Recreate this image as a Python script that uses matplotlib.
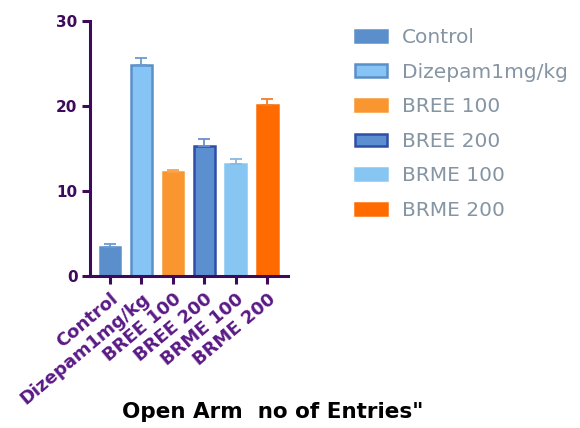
import matplotlib
matplotlib.use("Agg")
import matplotlib.pyplot as plt
from matplotlib.patches import Patch

# Group names and measurements
groups = ["Control", "Dizepam1mg/kg", "BREE 100", "BREE 200", "BRME 100", "BRME 200"]
means = [3.4, 24.8, 12.2, 15.3, 13.2, 20.1]
sems = [0.35, 0.8, 0.3, 0.8, 0.5, 0.7]
yticks = [0, 10, 20, 30]

fills = ["#5b8fcb", "#86c4f5", "#f9962f", "#5b8fd0", "#87c6f3", "#ff6b00"]
edges = ["#5b8fcb", "#5a8fc8", "#f9962f", "#2f4ea8", "#87c6f3", "#ff6b00"]
err_colors = ["#6c9bd0", "#6c9bd0", "#f9a24a", "#6c8fcf", "#8ab8e0", "#f07f30"]

axis_color = "#3d0a5c"
tick_label_color = "#5a1a86"
legend_text_color = "#8595a3"

fig = plt.figure(figsize=(5.8, 4.28), dpi=100)
ax = fig.add_axes([0.155, 0.355, 0.342, 0.597])

x = list(range(len(groups)))
for i in x:
    ax.bar(i, means[i], width=0.66, color=fills[i], edgecolor=edges[i],
           linewidth=1.8, zorder=2)
    ax.errorbar(i, means[i], yerr=[[0], [sems[i]]], fmt="none",
                ecolor=err_colors[i], elinewidth=1.3, capsize=4, capthick=1.3,
                zorder=3)

ax.set_xlim(-0.64, 5.67)
ax.set_ylim(0, 30)
ax.set_yticks(yticks)
ax.set_xticks(x)
ax.set_xticklabels(groups, rotation=40, ha="right", va="top",
                   rotation_mode="anchor", fontsize=13, fontweight="bold",
                   color=tick_label_color, family="DejaVu Sans")
for lab in ax.get_yticklabels():
    lab.set_fontsize(11)
    lab.set_fontweight("bold")
    lab.set_color(axis_color)

for side in ["top", "right"]:
    ax.spines[side].set_visible(False)
for side in ["left", "bottom"]:
    ax.spines[side].set_color(axis_color)
    ax.spines[side].set_linewidth(2.2)
ax.tick_params(axis="both", colors=axis_color, width=2.2, length=6, pad=3)
ax.tick_params(axis="x", labelcolor=tick_label_color, pad=4)

handles = [Patch(facecolor=fills[i], edgecolor=edges[i], linewidth=1.8)
           for i in x]
leg = fig.legend(handles, groups, loc="upper left",
                 bbox_to_anchor=(0.598, 0.953), frameon=False,
                 fontsize=14.5, handlelength=1.6, handleheight=0.55,
                 handletextpad=0.75, labelspacing=0.77, borderaxespad=0)
for t in leg.get_texts():
    t.set_color(legend_text_color)

fig.text(0.47, 0.037, "Open Arm  no of Entries\"", ha="center", va="center",
         fontsize=15.5, fontweight="bold", color="black")

fig.savefig("out.png", dpi=100)
